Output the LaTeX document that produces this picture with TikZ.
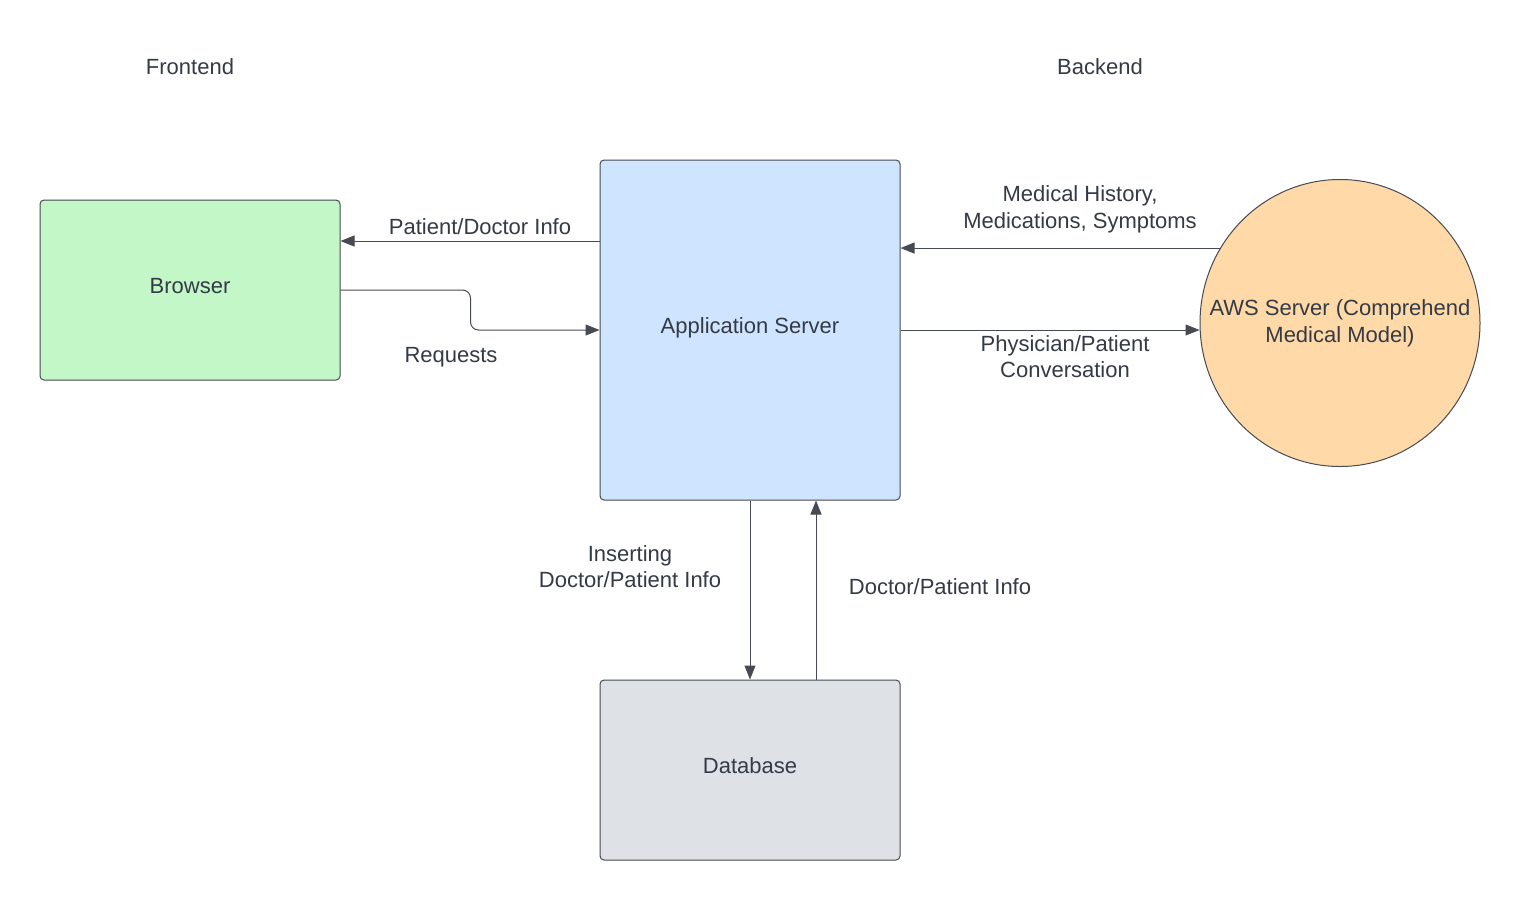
\documentclass[tikz,border=0pt]{standalone}
\usepackage{fontspec}
\setmainfont{Liberation Sans}
\usetikzlibrary{arrows.meta,shapes.geometric}
\definecolor{inkgray}{RGB}{52,58,70}
\definecolor{edgegray}{RGB}{70,74,82}
\definecolor{browsergreen}{RGB}{195,247,200}
\definecolor{serverblue}{RGB}{207,228,255}
\definecolor{awsorange}{RGB}{255,218,168}
\definecolor{dbgray}{RGB}{222,226,231}
\tikzset{
    box/.style={draw=edgegray, line width=0.5pt, rounded corners=2pt,
        minimum width=150pt, minimum height=90pt, inner sep=0pt, text depth=4pt},
    label/.style={align=center},
    flow/.style={draw=edgegray, line width=0.5pt,
        -{Triangle[length=7pt,width=5.5pt]}},
}
\begin{document}
\begin{tikzpicture}[x=0.5pt, y=-0.5pt, text=inkgray,
    font=\fontsize{11}{13.3}\selectfont]
    % page frame
    \useasboundingbox [fill=white] (0, 0) rectangle (1520, 900);
    % side headings
    \node (frontend) at (190, 67) {Frontend};
    \node (backend) at (1100, 67) {Backend};
    % blocks
    \node [box, fill=browsergreen] (browser) at (190, 290) {Browser};
    \node [box, fill=serverblue, minimum height=170pt] (app) at (750, 330) {Application Server};
    \node [box, fill=dbgray] (db) at (750, 770) {Database};
    \node [ellipse, draw=edgegray, line width=0.5pt, fill=awsorange,
        minimum width=140pt, minimum height=143.5pt, inner sep=0pt] (aws) at (1340, 323) {};
    \node [label] (awslabel) at (1340, 323) {AWS Server (Comprehend\\Medical Model)};
    % server -> browser
    \draw [flow] (app.west |- 0, 241) -- (browser.east |- 0, 241);
    \node [label] (infolabel) at (480, 227) {Patient/Doctor Info};
    % browser -> server
    \draw [flow, rounded corners=4pt] (browser.east) -- ++(130, 0) |- (app.west);
    \node [label] (reqlabel) at (451, 357) {Requests};
    % aws -> server
    \draw [flow] (aws.148) -- (aws.148 -| app.east);
    \node [label] (histlabel) at (1080, 209.5) {Medical History,\\Medications, Symptoms};
    % server -> aws
    \draw [flow] (app.east) -- (app.east -| aws.west);
    \node [label] (convlabel) at (1065, 356.5) {Physician/Patient\\Conversation};
    % server -> database
    \draw [flow] (app.south) -- (db.north);
    \node [label] (insertlabel) at (630, 566.5) {Inserting\\Doctor/Patient Info};
    % database -> server
    \draw [flow] ([xshift=33pt]db.north) -- ([xshift=33pt]app.south);
    \node [label] (dblabel) at (940, 587) {Doctor/Patient Info};
\end{tikzpicture}
\end{document}
